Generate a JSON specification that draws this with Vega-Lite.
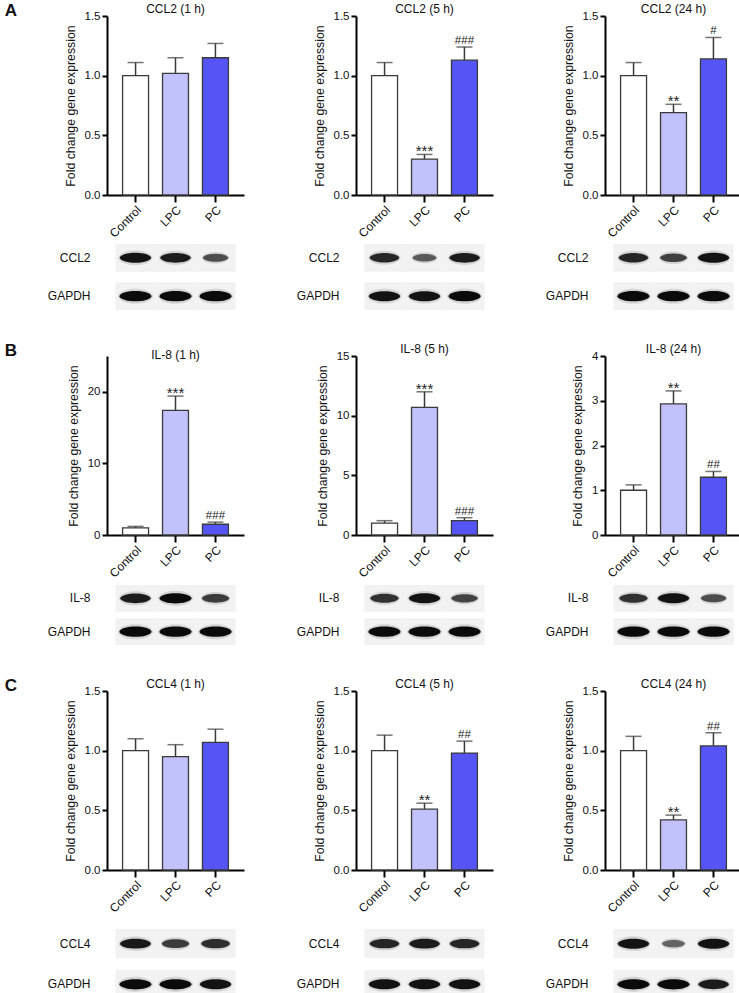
{
"$schema":"https://vega.github.io/schema/vega-lite/v6.json",
"padding":{"left":4,"top":2,"right":2,"bottom":0},
"background":"#ffffff",
"datasets":{
"bars":[
{"panel":"A1","group":"Control","value":1.0,"upper":1.11,"sig":""},
{"panel":"A1","group":"LPC","value":1.02,"upper":1.15,"sig":""},
{"panel":"A1","group":"PC","value":1.15,"upper":1.27,"sig":""},
{"panel":"A2","group":"Control","value":1.0,"upper":1.11,"sig":""},
{"panel":"A2","group":"LPC","value":0.30,"upper":0.34,"sig":"***"},
{"panel":"A2","group":"PC","value":1.13,"upper":1.24,"sig":"###"},
{"panel":"A3","group":"Control","value":1.0,"upper":1.11,"sig":""},
{"panel":"A3","group":"LPC","value":0.69,"upper":0.76,"sig":"**"},
{"panel":"A3","group":"PC","value":1.14,"upper":1.32,"sig":"#"},
{"panel":"B1","group":"Control","value":1.0,"upper":1.2,"sig":""},
{"panel":"B1","group":"LPC","value":17.4,"upper":19.4,"sig":"***"},
{"panel":"B1","group":"PC","value":1.5,"upper":1.8,"sig":"###"},
{"panel":"B2","group":"Control","value":1.0,"upper":1.2,"sig":""},
{"panel":"B2","group":"LPC","value":10.7,"upper":12.0,"sig":"***"},
{"panel":"B2","group":"PC","value":1.2,"upper":1.45,"sig":"###"},
{"panel":"B3","group":"Control","value":1.0,"upper":1.12,"sig":""},
{"panel":"B3","group":"LPC","value":2.93,"upper":3.22,"sig":"**"},
{"panel":"B3","group":"PC","value":1.29,"upper":1.42,"sig":"##"},
{"panel":"C1","group":"Control","value":1.0,"upper":1.10,"sig":""},
{"panel":"C1","group":"LPC","value":0.95,"upper":1.05,"sig":""},
{"panel":"C1","group":"PC","value":1.07,"upper":1.18,"sig":""},
{"panel":"C2","group":"Control","value":1.0,"upper":1.13,"sig":""},
{"panel":"C2","group":"LPC","value":0.51,"upper":0.56,"sig":"**"},
{"panel":"C2","group":"PC","value":0.98,"upper":1.08,"sig":"##"},
{"panel":"C3","group":"Control","value":1.0,"upper":1.12,"sig":""},
{"panel":"C3","group":"LPC","value":0.42,"upper":0.46,"sig":"**"},
{"panel":"C3","group":"PC","value":1.04,"upper":1.15,"sig":"##"}
],
"blots":[
{"panel":"A1","protein":"CCL2","group":"Control","intensity":0.95},
{"panel":"A1","protein":"CCL2","group":"LPC","intensity":0.9},
{"panel":"A1","protein":"CCL2","group":"PC","intensity":0.62},
{"panel":"A1","protein":"GAPDH","group":"Control","intensity":1.0},
{"panel":"A1","protein":"GAPDH","group":"LPC","intensity":1.0},
{"panel":"A1","protein":"GAPDH","group":"PC","intensity":1.0},
{"panel":"A2","protein":"CCL2","group":"Control","intensity":0.85},
{"panel":"A2","protein":"CCL2","group":"LPC","intensity":0.55},
{"panel":"A2","protein":"CCL2","group":"PC","intensity":0.9},
{"panel":"A2","protein":"GAPDH","group":"Control","intensity":0.95},
{"panel":"A2","protein":"GAPDH","group":"LPC","intensity":0.95},
{"panel":"A2","protein":"GAPDH","group":"PC","intensity":1.0},
{"panel":"A3","protein":"CCL2","group":"Control","intensity":0.85},
{"panel":"A3","protein":"CCL2","group":"LPC","intensity":0.7},
{"panel":"A3","protein":"CCL2","group":"PC","intensity":0.95},
{"panel":"A3","protein":"GAPDH","group":"Control","intensity":1.0},
{"panel":"A3","protein":"GAPDH","group":"LPC","intensity":1.0},
{"panel":"A3","protein":"GAPDH","group":"PC","intensity":1.0},
{"panel":"B1","protein":"IL-8","group":"Control","intensity":0.9},
{"panel":"B1","protein":"IL-8","group":"LPC","intensity":1.0},
{"panel":"B1","protein":"IL-8","group":"PC","intensity":0.72},
{"panel":"B1","protein":"GAPDH","group":"Control","intensity":1.0},
{"panel":"B1","protein":"GAPDH","group":"LPC","intensity":1.0},
{"panel":"B1","protein":"GAPDH","group":"PC","intensity":1.0},
{"panel":"B2","protein":"IL-8","group":"Control","intensity":0.78},
{"panel":"B2","protein":"IL-8","group":"LPC","intensity":0.95},
{"panel":"B2","protein":"IL-8","group":"PC","intensity":0.68},
{"panel":"B2","protein":"GAPDH","group":"Control","intensity":1.0},
{"panel":"B2","protein":"GAPDH","group":"LPC","intensity":1.0},
{"panel":"B2","protein":"GAPDH","group":"PC","intensity":1.0},
{"panel":"B3","protein":"IL-8","group":"Control","intensity":0.78},
{"panel":"B3","protein":"IL-8","group":"LPC","intensity":0.95},
{"panel":"B3","protein":"IL-8","group":"PC","intensity":0.62},
{"panel":"B3","protein":"GAPDH","group":"Control","intensity":1.0},
{"panel":"B3","protein":"GAPDH","group":"LPC","intensity":1.0},
{"panel":"B3","protein":"GAPDH","group":"PC","intensity":1.0},
{"panel":"C1","protein":"CCL4","group":"Control","intensity":0.92},
{"panel":"C1","protein":"CCL4","group":"LPC","intensity":0.72},
{"panel":"C1","protein":"CCL4","group":"PC","intensity":0.8},
{"panel":"C1","protein":"GAPDH","group":"Control","intensity":1.0},
{"panel":"C1","protein":"GAPDH","group":"LPC","intensity":1.0},
{"panel":"C1","protein":"GAPDH","group":"PC","intensity":0.95},
{"panel":"C2","protein":"CCL4","group":"Control","intensity":0.85},
{"panel":"C2","protein":"CCL4","group":"LPC","intensity":0.9},
{"panel":"C2","protein":"CCL4","group":"PC","intensity":0.85},
{"panel":"C2","protein":"GAPDH","group":"Control","intensity":0.95},
{"panel":"C2","protein":"GAPDH","group":"LPC","intensity":0.95},
{"panel":"C2","protein":"GAPDH","group":"PC","intensity":0.95},
{"panel":"C3","protein":"CCL4","group":"Control","intensity":0.95},
{"panel":"C3","protein":"CCL4","group":"LPC","intensity":0.5},
{"panel":"C3","protein":"CCL4","group":"PC","intensity":0.95},
{"panel":"C3","protein":"GAPDH","group":"Control","intensity":1.0},
{"panel":"C3","protein":"GAPDH","group":"LPC","intensity":1.0},
{"panel":"C3","protein":"GAPDH","group":"PC","intensity":0.9}
]
},
"config":{
"font":"Liberation Sans",
"view":{"stroke":null},
"title":{"fontSize":12,"fontWeight":"normal","color":"#111","offset":-6},
"axis":{"domainColor":"#000","domainWidth":2,"tickColor":"#000","tickWidth":2,"labelColor":"#111","labelFontSize":11.5,"titleFontSize":12.3,"titleFontWeight":"normal","titleColor":"#111","grid":false},
"axisX":{"labelAngle":-45,"tickSize":7,"labelPadding":2,"labelFontSize":12},
"axisY":{"tickSize":5,"titlePadding":7}
},
"spacing":32,
"vconcat":[
{"title":{"text":"A","orient":"left","anchor":"end","angle":0,"align":"right","baseline":"top","fontSize":17,"fontWeight":"bold","offset":18},
"spacing":52,
"hconcat":[
{"spacing":4,"vconcat":[
{"width":137,"height":179,"title":"CCL2 (1 h)","data":{"name":"bars"},"transform":[{"filter":"datum.panel==='A1'"}],
"encoding":{"x":{"field":"group","type":"nominal","sort":["Control","LPC","PC"],"scale":{"paddingInner":0.35,"paddingOuter":0.39},"axis":{"title":null}}},
"layer":[
{"mark":{"type":"bar","stroke":"#3a3a3a","strokeWidth":1.3},"encoding":{"y":{"field":"value","type":"quantitative","scale":{"domain":[0,1.5],"nice":false},"axis":{"values":[0,0.5,1,1.5],"format":".1f","title":"Fold change gene expression"}},"fill":{"field":"group","type":"nominal","scale":{"domain":["Control","LPC","PC"],"range":["#ffffff","#c1c1fb","#5555f6"]},"legend":null}}},
{"mark":{"type":"rule","color":"#3a3a3a","strokeWidth":1.5},"encoding":{"y":{"field":"value","type":"quantitative","scale":{"domain":[0,1.5]}},"y2":{"field":"upper"}}},
{"mark":{"type":"tick","color":"#3a3a3a","thickness":1.5,"size":16},"encoding":{"y":{"field":"upper","type":"quantitative","scale":{"domain":[0,1.5]}}}}
]},
{"width":137,"height":66,"data":{"name":"blots"},"transform":[{"filter":"datum.panel==='A1'"}],
"encoding":{"x":{"field":"group","type":"nominal","sort":["Control","LPC","PC"],"scale":{"paddingInner":0,"paddingOuter":0.21},"axis":null},
"y":{"field":"protein","type":"nominal","sort":null,"scale":{"paddingInner":0.28,"paddingOuter":0},"axis":{"title":null,"domain":false,"ticks":false,"labelPadding":17,"labelFontSize":12}}},
"layer":[
{"mark":{"type":"rect","fill":"#f2f2f2"}},
{"mark":{"type":"point","filled":true,"color":"#000","opacity":0.12,"shape":"M-1.08,0C-0.95,-0.62 0.95,-0.62 1.08,0C0.95,0.62 -0.95,0.62 -1.08,0Z"},"encoding":{"size":{"field":"intensity","type":"quantitative","scale":{"domain":[0,1],"range":[0,1050]},"legend":null}}},
{"mark":{"type":"point","filled":true,"color":"#000","shape":"M-1,0C-0.85,-0.42 0.85,-0.42 1,0C0.85,0.42 -0.85,0.42 -1,0Z"},"encoding":{"size":{"field":"intensity","type":"quantitative","scale":{"domain":[0,1],"range":[0,1050]},"legend":null},"opacity":{"field":"intensity","type":"quantitative","scale":{"domain":[0.4,1],"range":[0.45,0.95]},"legend":null}}}
]}
]},
{"spacing":4,"vconcat":[
{"width":137,"height":179,"title":"CCL2 (5 h)","data":{"name":"bars"},"transform":[{"filter":"datum.panel==='A2'"}],
"encoding":{"x":{"field":"group","type":"nominal","sort":["Control","LPC","PC"],"scale":{"paddingInner":0.35,"paddingOuter":0.39},"axis":{"title":null}}},
"layer":[
{"mark":{"type":"bar","stroke":"#3a3a3a","strokeWidth":1.3},"encoding":{"y":{"field":"value","type":"quantitative","scale":{"domain":[0,1.5],"nice":false},"axis":{"values":[0,0.5,1,1.5],"format":".1f","title":"Fold change gene expression"}},"fill":{"field":"group","type":"nominal","scale":{"domain":["Control","LPC","PC"],"range":["#ffffff","#c1c1fb","#5555f6"]},"legend":null}}},
{"mark":{"type":"rule","color":"#3a3a3a","strokeWidth":1.5},"encoding":{"y":{"field":"value","type":"quantitative","scale":{"domain":[0,1.5]}},"y2":{"field":"upper"}}},
{"mark":{"type":"tick","color":"#3a3a3a","thickness":1.5,"size":16},"encoding":{"y":{"field":"upper","type":"quantitative","scale":{"domain":[0,1.5]}}}},
{"transform":[{"filter":"indexof(datum.sig,'*')>=0"}],"mark":{"type":"text","fontSize":15,"dy":2,"baseline":"alphabetic","color":"#222"},"encoding":{"y":{"field":"upper","type":"quantitative","scale":{"domain":[0,1.5]}},"text":{"field":"sig"}}},
{"transform":[{"filter":"indexof(datum.sig,'#')>=0"}],"mark":{"type":"text","fontSize":11.5,"dy":-3,"baseline":"alphabetic","color":"#222"},"encoding":{"y":{"field":"upper","type":"quantitative","scale":{"domain":[0,1.5]}},"text":{"field":"sig"}}}
]},
{"width":137,"height":66,"data":{"name":"blots"},"transform":[{"filter":"datum.panel==='A2'"}],
"encoding":{"x":{"field":"group","type":"nominal","sort":["Control","LPC","PC"],"scale":{"paddingInner":0,"paddingOuter":0.21},"axis":null},
"y":{"field":"protein","type":"nominal","sort":null,"scale":{"paddingInner":0.28,"paddingOuter":0},"axis":{"title":null,"domain":false,"ticks":false,"labelPadding":17,"labelFontSize":12}}},
"layer":[
{"mark":{"type":"rect","fill":"#f2f2f2"}},
{"mark":{"type":"point","filled":true,"color":"#000","opacity":0.12,"shape":"M-1.08,0C-0.95,-0.62 0.95,-0.62 1.08,0C0.95,0.62 -0.95,0.62 -1.08,0Z"},"encoding":{"size":{"field":"intensity","type":"quantitative","scale":{"domain":[0,1],"range":[0,1050]},"legend":null}}},
{"mark":{"type":"point","filled":true,"color":"#000","shape":"M-1,0C-0.85,-0.42 0.85,-0.42 1,0C0.85,0.42 -0.85,0.42 -1,0Z"},"encoding":{"size":{"field":"intensity","type":"quantitative","scale":{"domain":[0,1],"range":[0,1050]},"legend":null},"opacity":{"field":"intensity","type":"quantitative","scale":{"domain":[0.4,1],"range":[0.45,0.95]},"legend":null}}}
]}
]},
{"spacing":4,"vconcat":[
{"width":137,"height":179,"title":"CCL2 (24 h)","data":{"name":"bars"},"transform":[{"filter":"datum.panel==='A3'"}],
"encoding":{"x":{"field":"group","type":"nominal","sort":["Control","LPC","PC"],"scale":{"paddingInner":0.35,"paddingOuter":0.39},"axis":{"title":null}}},
"layer":[
{"mark":{"type":"bar","stroke":"#3a3a3a","strokeWidth":1.3},"encoding":{"y":{"field":"value","type":"quantitative","scale":{"domain":[0,1.5],"nice":false},"axis":{"values":[0,0.5,1,1.5],"format":".1f","title":"Fold change gene expression"}},"fill":{"field":"group","type":"nominal","scale":{"domain":["Control","LPC","PC"],"range":["#ffffff","#c1c1fb","#5555f6"]},"legend":null}}},
{"mark":{"type":"rule","color":"#3a3a3a","strokeWidth":1.5},"encoding":{"y":{"field":"value","type":"quantitative","scale":{"domain":[0,1.5]}},"y2":{"field":"upper"}}},
{"mark":{"type":"tick","color":"#3a3a3a","thickness":1.5,"size":16},"encoding":{"y":{"field":"upper","type":"quantitative","scale":{"domain":[0,1.5]}}}},
{"transform":[{"filter":"indexof(datum.sig,'*')>=0"}],"mark":{"type":"text","fontSize":15,"dy":2,"baseline":"alphabetic","color":"#222"},"encoding":{"y":{"field":"upper","type":"quantitative","scale":{"domain":[0,1.5]}},"text":{"field":"sig"}}},
{"transform":[{"filter":"indexof(datum.sig,'#')>=0"}],"mark":{"type":"text","fontSize":11.5,"dy":-3,"baseline":"alphabetic","color":"#222"},"encoding":{"y":{"field":"upper","type":"quantitative","scale":{"domain":[0,1.5]}},"text":{"field":"sig"}}}
]},
{"width":137,"height":66,"data":{"name":"blots"},"transform":[{"filter":"datum.panel==='A3'"}],
"encoding":{"x":{"field":"group","type":"nominal","sort":["Control","LPC","PC"],"scale":{"paddingInner":0,"paddingOuter":0.21},"axis":null},
"y":{"field":"protein","type":"nominal","sort":null,"scale":{"paddingInner":0.28,"paddingOuter":0},"axis":{"title":null,"domain":false,"ticks":false,"labelPadding":17,"labelFontSize":12}}},
"layer":[
{"mark":{"type":"rect","fill":"#f2f2f2"}},
{"mark":{"type":"point","filled":true,"color":"#000","opacity":0.12,"shape":"M-1.08,0C-0.95,-0.62 0.95,-0.62 1.08,0C0.95,0.62 -0.95,0.62 -1.08,0Z"},"encoding":{"size":{"field":"intensity","type":"quantitative","scale":{"domain":[0,1],"range":[0,1050]},"legend":null}}},
{"mark":{"type":"point","filled":true,"color":"#000","shape":"M-1,0C-0.85,-0.42 0.85,-0.42 1,0C0.85,0.42 -0.85,0.42 -1,0Z"},"encoding":{"size":{"field":"intensity","type":"quantitative","scale":{"domain":[0,1],"range":[0,1050]},"legend":null},"opacity":{"field":"intensity","type":"quantitative","scale":{"domain":[0.4,1],"range":[0.45,0.95]},"legend":null}}}
]}
]}
]},
{"title":{"text":"B","orient":"left","anchor":"end","angle":0,"align":"right","baseline":"top","fontSize":17,"fontWeight":"bold","offset":18},
"spacing":52,
"hconcat":[
{"spacing":4,"vconcat":[
{"width":137,"height":179,"title":"IL-8 (1 h)","data":{"name":"bars"},"transform":[{"filter":"datum.panel==='B1'"}],
"encoding":{"x":{"field":"group","type":"nominal","sort":["Control","LPC","PC"],"scale":{"paddingInner":0.35,"paddingOuter":0.39},"axis":{"title":null}}},
"layer":[
{"mark":{"type":"bar","stroke":"#3a3a3a","strokeWidth":1.3},"encoding":{"y":{"field":"value","type":"quantitative","scale":{"domain":[0,25],"nice":false},"axis":{"values":[0,5,10,15,20,25],"title":"Fold change gene expression"}},"fill":{"field":"group","type":"nominal","scale":{"domain":["Control","LPC","PC"],"range":["#ffffff","#c1c1fb","#5555f6"]},"legend":null}}},
{"mark":{"type":"rule","color":"#3a3a3a","strokeWidth":1.5},"encoding":{"y":{"field":"value","type":"quantitative","scale":{"domain":[0,25]}},"y2":{"field":"upper"}}},
{"mark":{"type":"tick","color":"#3a3a3a","thickness":1.5,"size":16},"encoding":{"y":{"field":"upper","type":"quantitative","scale":{"domain":[0,25]}}}},
{"transform":[{"filter":"indexof(datum.sig,'*')>=0"}],"mark":{"type":"text","fontSize":15,"dy":2,"baseline":"alphabetic","color":"#222"},"encoding":{"y":{"field":"upper","type":"quantitative","scale":{"domain":[0,25]}},"text":{"field":"sig"}}},
{"transform":[{"filter":"indexof(datum.sig,'#')>=0"}],"mark":{"type":"text","fontSize":11.5,"dy":-3,"baseline":"alphabetic","color":"#222"},"encoding":{"y":{"field":"upper","type":"quantitative","scale":{"domain":[0,25]}},"text":{"field":"sig"}}}
]},
{"width":137,"height":60,"data":{"name":"blots"},"transform":[{"filter":"datum.panel==='B1'"}],
"encoding":{"x":{"field":"group","type":"nominal","sort":["Control","LPC","PC"],"scale":{"paddingInner":0,"paddingOuter":0.21},"axis":null},
"y":{"field":"protein","type":"nominal","sort":null,"scale":{"paddingInner":0.2,"paddingOuter":0},"axis":{"title":null,"domain":false,"ticks":false,"labelPadding":17,"labelFontSize":12}}},
"layer":[
{"mark":{"type":"rect","fill":"#f2f2f2"}},
{"mark":{"type":"point","filled":true,"color":"#000","opacity":0.12,"shape":"M-1.08,0C-0.95,-0.62 0.95,-0.62 1.08,0C0.95,0.62 -0.95,0.62 -1.08,0Z"},"encoding":{"size":{"field":"intensity","type":"quantitative","scale":{"domain":[0,1],"range":[0,1050]},"legend":null}}},
{"mark":{"type":"point","filled":true,"color":"#000","shape":"M-1,0C-0.85,-0.42 0.85,-0.42 1,0C0.85,0.42 -0.85,0.42 -1,0Z"},"encoding":{"size":{"field":"intensity","type":"quantitative","scale":{"domain":[0,1],"range":[0,1050]},"legend":null},"opacity":{"field":"intensity","type":"quantitative","scale":{"domain":[0.4,1],"range":[0.45,0.95]},"legend":null}}}
]}
]},
{"spacing":4,"vconcat":[
{"width":137,"height":179,"title":"IL-8 (5 h)","data":{"name":"bars"},"transform":[{"filter":"datum.panel==='B2'"}],
"encoding":{"x":{"field":"group","type":"nominal","sort":["Control","LPC","PC"],"scale":{"paddingInner":0.35,"paddingOuter":0.39},"axis":{"title":null}}},
"layer":[
{"mark":{"type":"bar","stroke":"#3a3a3a","strokeWidth":1.3},"encoding":{"y":{"field":"value","type":"quantitative","scale":{"domain":[0,15],"nice":false},"axis":{"values":[0,5,10,15],"title":"Fold change gene expression"}},"fill":{"field":"group","type":"nominal","scale":{"domain":["Control","LPC","PC"],"range":["#ffffff","#c1c1fb","#5555f6"]},"legend":null}}},
{"mark":{"type":"rule","color":"#3a3a3a","strokeWidth":1.5},"encoding":{"y":{"field":"value","type":"quantitative","scale":{"domain":[0,15]}},"y2":{"field":"upper"}}},
{"mark":{"type":"tick","color":"#3a3a3a","thickness":1.5,"size":16},"encoding":{"y":{"field":"upper","type":"quantitative","scale":{"domain":[0,15]}}}},
{"transform":[{"filter":"indexof(datum.sig,'*')>=0"}],"mark":{"type":"text","fontSize":15,"dy":2,"baseline":"alphabetic","color":"#222"},"encoding":{"y":{"field":"upper","type":"quantitative","scale":{"domain":[0,15]}},"text":{"field":"sig"}}},
{"transform":[{"filter":"indexof(datum.sig,'#')>=0"}],"mark":{"type":"text","fontSize":11.5,"dy":-3,"baseline":"alphabetic","color":"#222"},"encoding":{"y":{"field":"upper","type":"quantitative","scale":{"domain":[0,15]}},"text":{"field":"sig"}}}
]},
{"width":137,"height":60,"data":{"name":"blots"},"transform":[{"filter":"datum.panel==='B2'"}],
"encoding":{"x":{"field":"group","type":"nominal","sort":["Control","LPC","PC"],"scale":{"paddingInner":0,"paddingOuter":0.21},"axis":null},
"y":{"field":"protein","type":"nominal","sort":null,"scale":{"paddingInner":0.2,"paddingOuter":0},"axis":{"title":null,"domain":false,"ticks":false,"labelPadding":17,"labelFontSize":12}}},
"layer":[
{"mark":{"type":"rect","fill":"#f2f2f2"}},
{"mark":{"type":"point","filled":true,"color":"#000","opacity":0.12,"shape":"M-1.08,0C-0.95,-0.62 0.95,-0.62 1.08,0C0.95,0.62 -0.95,0.62 -1.08,0Z"},"encoding":{"size":{"field":"intensity","type":"quantitative","scale":{"domain":[0,1],"range":[0,1050]},"legend":null}}},
{"mark":{"type":"point","filled":true,"color":"#000","shape":"M-1,0C-0.85,-0.42 0.85,-0.42 1,0C0.85,0.42 -0.85,0.42 -1,0Z"},"encoding":{"size":{"field":"intensity","type":"quantitative","scale":{"domain":[0,1],"range":[0,1050]},"legend":null},"opacity":{"field":"intensity","type":"quantitative","scale":{"domain":[0.4,1],"range":[0.45,0.95]},"legend":null}}}
]}
]},
{"spacing":4,"vconcat":[
{"width":137,"height":179,"title":"IL-8 (24 h)","data":{"name":"bars"},"transform":[{"filter":"datum.panel==='B3'"}],
"encoding":{"x":{"field":"group","type":"nominal","sort":["Control","LPC","PC"],"scale":{"paddingInner":0.35,"paddingOuter":0.39},"axis":{"title":null}}},
"layer":[
{"mark":{"type":"bar","stroke":"#3a3a3a","strokeWidth":1.3},"encoding":{"y":{"field":"value","type":"quantitative","scale":{"domain":[0,4],"nice":false},"axis":{"values":[0,1,2,3,4],"title":"Fold change gene expression"}},"fill":{"field":"group","type":"nominal","scale":{"domain":["Control","LPC","PC"],"range":["#ffffff","#c1c1fb","#5555f6"]},"legend":null}}},
{"mark":{"type":"rule","color":"#3a3a3a","strokeWidth":1.5},"encoding":{"y":{"field":"value","type":"quantitative","scale":{"domain":[0,4]}},"y2":{"field":"upper"}}},
{"mark":{"type":"tick","color":"#3a3a3a","thickness":1.5,"size":16},"encoding":{"y":{"field":"upper","type":"quantitative","scale":{"domain":[0,4]}}}},
{"transform":[{"filter":"indexof(datum.sig,'*')>=0"}],"mark":{"type":"text","fontSize":15,"dy":2,"baseline":"alphabetic","color":"#222"},"encoding":{"y":{"field":"upper","type":"quantitative","scale":{"domain":[0,4]}},"text":{"field":"sig"}}},
{"transform":[{"filter":"indexof(datum.sig,'#')>=0"}],"mark":{"type":"text","fontSize":11.5,"dy":-3,"baseline":"alphabetic","color":"#222"},"encoding":{"y":{"field":"upper","type":"quantitative","scale":{"domain":[0,4]}},"text":{"field":"sig"}}}
]},
{"width":137,"height":60,"data":{"name":"blots"},"transform":[{"filter":"datum.panel==='B3'"}],
"encoding":{"x":{"field":"group","type":"nominal","sort":["Control","LPC","PC"],"scale":{"paddingInner":0,"paddingOuter":0.21},"axis":null},
"y":{"field":"protein","type":"nominal","sort":null,"scale":{"paddingInner":0.2,"paddingOuter":0},"axis":{"title":null,"domain":false,"ticks":false,"labelPadding":17,"labelFontSize":12}}},
"layer":[
{"mark":{"type":"rect","fill":"#f2f2f2"}},
{"mark":{"type":"point","filled":true,"color":"#000","opacity":0.12,"shape":"M-1.08,0C-0.95,-0.62 0.95,-0.62 1.08,0C0.95,0.62 -0.95,0.62 -1.08,0Z"},"encoding":{"size":{"field":"intensity","type":"quantitative","scale":{"domain":[0,1],"range":[0,1050]},"legend":null}}},
{"mark":{"type":"point","filled":true,"color":"#000","shape":"M-1,0C-0.85,-0.42 0.85,-0.42 1,0C0.85,0.42 -0.85,0.42 -1,0Z"},"encoding":{"size":{"field":"intensity","type":"quantitative","scale":{"domain":[0,1],"range":[0,1050]},"legend":null},"opacity":{"field":"intensity","type":"quantitative","scale":{"domain":[0.4,1],"range":[0.45,0.95]},"legend":null}}}
]}
]}
]},
{"title":{"text":"C","orient":"left","anchor":"end","angle":0,"align":"right","baseline":"top","fontSize":17,"fontWeight":"bold","offset":18},
"spacing":52,
"hconcat":[
{"spacing":14,"vconcat":[
{"width":137,"height":179,"title":"CCL4 (1 h)","data":{"name":"bars"},"transform":[{"filter":"datum.panel==='C1'"}],
"encoding":{"x":{"field":"group","type":"nominal","sort":["Control","LPC","PC"],"scale":{"paddingInner":0.35,"paddingOuter":0.39},"axis":{"title":null}}},
"layer":[
{"mark":{"type":"bar","stroke":"#3a3a3a","strokeWidth":1.3},"encoding":{"y":{"field":"value","type":"quantitative","scale":{"domain":[0,1.5],"nice":false},"axis":{"values":[0,0.5,1,1.5],"format":".1f","title":"Fold change gene expression"}},"fill":{"field":"group","type":"nominal","scale":{"domain":["Control","LPC","PC"],"range":["#ffffff","#c1c1fb","#5555f6"]},"legend":null}}},
{"mark":{"type":"rule","color":"#3a3a3a","strokeWidth":1.5},"encoding":{"y":{"field":"value","type":"quantitative","scale":{"domain":[0,1.5]}},"y2":{"field":"upper"}}},
{"mark":{"type":"tick","color":"#3a3a3a","thickness":1.5,"size":16},"encoding":{"y":{"field":"upper","type":"quantitative","scale":{"domain":[0,1.5]}}}}
]},
{"width":137,"height":70,"data":{"name":"blots"},"transform":[{"filter":"datum.panel==='C1'"}],
"encoding":{"x":{"field":"group","type":"nominal","sort":["Control","LPC","PC"],"scale":{"paddingInner":0,"paddingOuter":0.21},"axis":null},
"y":{"field":"protein","type":"nominal","sort":null,"scale":{"paddingInner":0.28,"paddingOuter":0},"axis":{"title":null,"domain":false,"ticks":false,"labelPadding":17,"labelFontSize":12}}},
"layer":[
{"mark":{"type":"rect","fill":"#f2f2f2"}},
{"mark":{"type":"point","filled":true,"color":"#000","opacity":0.12,"shape":"M-1.08,0C-0.95,-0.62 0.95,-0.62 1.08,0C0.95,0.62 -0.95,0.62 -1.08,0Z"},"encoding":{"size":{"field":"intensity","type":"quantitative","scale":{"domain":[0,1],"range":[0,1050]},"legend":null}}},
{"mark":{"type":"point","filled":true,"color":"#000","shape":"M-1,0C-0.85,-0.42 0.85,-0.42 1,0C0.85,0.42 -0.85,0.42 -1,0Z"},"encoding":{"size":{"field":"intensity","type":"quantitative","scale":{"domain":[0,1],"range":[0,1050]},"legend":null},"opacity":{"field":"intensity","type":"quantitative","scale":{"domain":[0.4,1],"range":[0.45,0.95]},"legend":null}}}
]}
]},
{"spacing":14,"vconcat":[
{"width":137,"height":179,"title":"CCL4 (5 h)","data":{"name":"bars"},"transform":[{"filter":"datum.panel==='C2'"}],
"encoding":{"x":{"field":"group","type":"nominal","sort":["Control","LPC","PC"],"scale":{"paddingInner":0.35,"paddingOuter":0.39},"axis":{"title":null}}},
"layer":[
{"mark":{"type":"bar","stroke":"#3a3a3a","strokeWidth":1.3},"encoding":{"y":{"field":"value","type":"quantitative","scale":{"domain":[0,1.5],"nice":false},"axis":{"values":[0,0.5,1,1.5],"format":".1f","title":"Fold change gene expression"}},"fill":{"field":"group","type":"nominal","scale":{"domain":["Control","LPC","PC"],"range":["#ffffff","#c1c1fb","#5555f6"]},"legend":null}}},
{"mark":{"type":"rule","color":"#3a3a3a","strokeWidth":1.5},"encoding":{"y":{"field":"value","type":"quantitative","scale":{"domain":[0,1.5]}},"y2":{"field":"upper"}}},
{"mark":{"type":"tick","color":"#3a3a3a","thickness":1.5,"size":16},"encoding":{"y":{"field":"upper","type":"quantitative","scale":{"domain":[0,1.5]}}}},
{"transform":[{"filter":"indexof(datum.sig,'*')>=0"}],"mark":{"type":"text","fontSize":15,"dy":2,"baseline":"alphabetic","color":"#222"},"encoding":{"y":{"field":"upper","type":"quantitative","scale":{"domain":[0,1.5]}},"text":{"field":"sig"}}},
{"transform":[{"filter":"indexof(datum.sig,'#')>=0"}],"mark":{"type":"text","fontSize":11.5,"dy":-3,"baseline":"alphabetic","color":"#222"},"encoding":{"y":{"field":"upper","type":"quantitative","scale":{"domain":[0,1.5]}},"text":{"field":"sig"}}}
]},
{"width":137,"height":70,"data":{"name":"blots"},"transform":[{"filter":"datum.panel==='C2'"}],
"encoding":{"x":{"field":"group","type":"nominal","sort":["Control","LPC","PC"],"scale":{"paddingInner":0,"paddingOuter":0.21},"axis":null},
"y":{"field":"protein","type":"nominal","sort":null,"scale":{"paddingInner":0.28,"paddingOuter":0},"axis":{"title":null,"domain":false,"ticks":false,"labelPadding":17,"labelFontSize":12}}},
"layer":[
{"mark":{"type":"rect","fill":"#f2f2f2"}},
{"mark":{"type":"point","filled":true,"color":"#000","opacity":0.12,"shape":"M-1.08,0C-0.95,-0.62 0.95,-0.62 1.08,0C0.95,0.62 -0.95,0.62 -1.08,0Z"},"encoding":{"size":{"field":"intensity","type":"quantitative","scale":{"domain":[0,1],"range":[0,1050]},"legend":null}}},
{"mark":{"type":"point","filled":true,"color":"#000","shape":"M-1,0C-0.85,-0.42 0.85,-0.42 1,0C0.85,0.42 -0.85,0.42 -1,0Z"},"encoding":{"size":{"field":"intensity","type":"quantitative","scale":{"domain":[0,1],"range":[0,1050]},"legend":null},"opacity":{"field":"intensity","type":"quantitative","scale":{"domain":[0.4,1],"range":[0.45,0.95]},"legend":null}}}
]}
]},
{"spacing":14,"vconcat":[
{"width":137,"height":179,"title":"CCL4 (24 h)","data":{"name":"bars"},"transform":[{"filter":"datum.panel==='C3'"}],
"encoding":{"x":{"field":"group","type":"nominal","sort":["Control","LPC","PC"],"scale":{"paddingInner":0.35,"paddingOuter":0.39},"axis":{"title":null}}},
"layer":[
{"mark":{"type":"bar","stroke":"#3a3a3a","strokeWidth":1.3},"encoding":{"y":{"field":"value","type":"quantitative","scale":{"domain":[0,1.5],"nice":false},"axis":{"values":[0,0.5,1,1.5],"format":".1f","title":"Fold change gene expression"}},"fill":{"field":"group","type":"nominal","scale":{"domain":["Control","LPC","PC"],"range":["#ffffff","#c1c1fb","#5555f6"]},"legend":null}}},
{"mark":{"type":"rule","color":"#3a3a3a","strokeWidth":1.5},"encoding":{"y":{"field":"value","type":"quantitative","scale":{"domain":[0,1.5]}},"y2":{"field":"upper"}}},
{"mark":{"type":"tick","color":"#3a3a3a","thickness":1.5,"size":16},"encoding":{"y":{"field":"upper","type":"quantitative","scale":{"domain":[0,1.5]}}}},
{"transform":[{"filter":"indexof(datum.sig,'*')>=0"}],"mark":{"type":"text","fontSize":15,"dy":2,"baseline":"alphabetic","color":"#222"},"encoding":{"y":{"field":"upper","type":"quantitative","scale":{"domain":[0,1.5]}},"text":{"field":"sig"}}},
{"transform":[{"filter":"indexof(datum.sig,'#')>=0"}],"mark":{"type":"text","fontSize":11.5,"dy":-3,"baseline":"alphabetic","color":"#222"},"encoding":{"y":{"field":"upper","type":"quantitative","scale":{"domain":[0,1.5]}},"text":{"field":"sig"}}}
]},
{"width":137,"height":70,"data":{"name":"blots"},"transform":[{"filter":"datum.panel==='C3'"}],
"encoding":{"x":{"field":"group","type":"nominal","sort":["Control","LPC","PC"],"scale":{"paddingInner":0,"paddingOuter":0.21},"axis":null},
"y":{"field":"protein","type":"nominal","sort":null,"scale":{"paddingInner":0.28,"paddingOuter":0},"axis":{"title":null,"domain":false,"ticks":false,"labelPadding":17,"labelFontSize":12}}},
"layer":[
{"mark":{"type":"rect","fill":"#f2f2f2"}},
{"mark":{"type":"point","filled":true,"color":"#000","opacity":0.12,"shape":"M-1.08,0C-0.95,-0.62 0.95,-0.62 1.08,0C0.95,0.62 -0.95,0.62 -1.08,0Z"},"encoding":{"size":{"field":"intensity","type":"quantitative","scale":{"domain":[0,1],"range":[0,1050]},"legend":null}}},
{"mark":{"type":"point","filled":true,"color":"#000","shape":"M-1,0C-0.85,-0.42 0.85,-0.42 1,0C0.85,0.42 -0.85,0.42 -1,0Z"},"encoding":{"size":{"field":"intensity","type":"quantitative","scale":{"domain":[0,1],"range":[0,1050]},"legend":null},"opacity":{"field":"intensity","type":"quantitative","scale":{"domain":[0.4,1],"range":[0.45,0.95]},"legend":null}}}
]}
]}
]}
]
}
